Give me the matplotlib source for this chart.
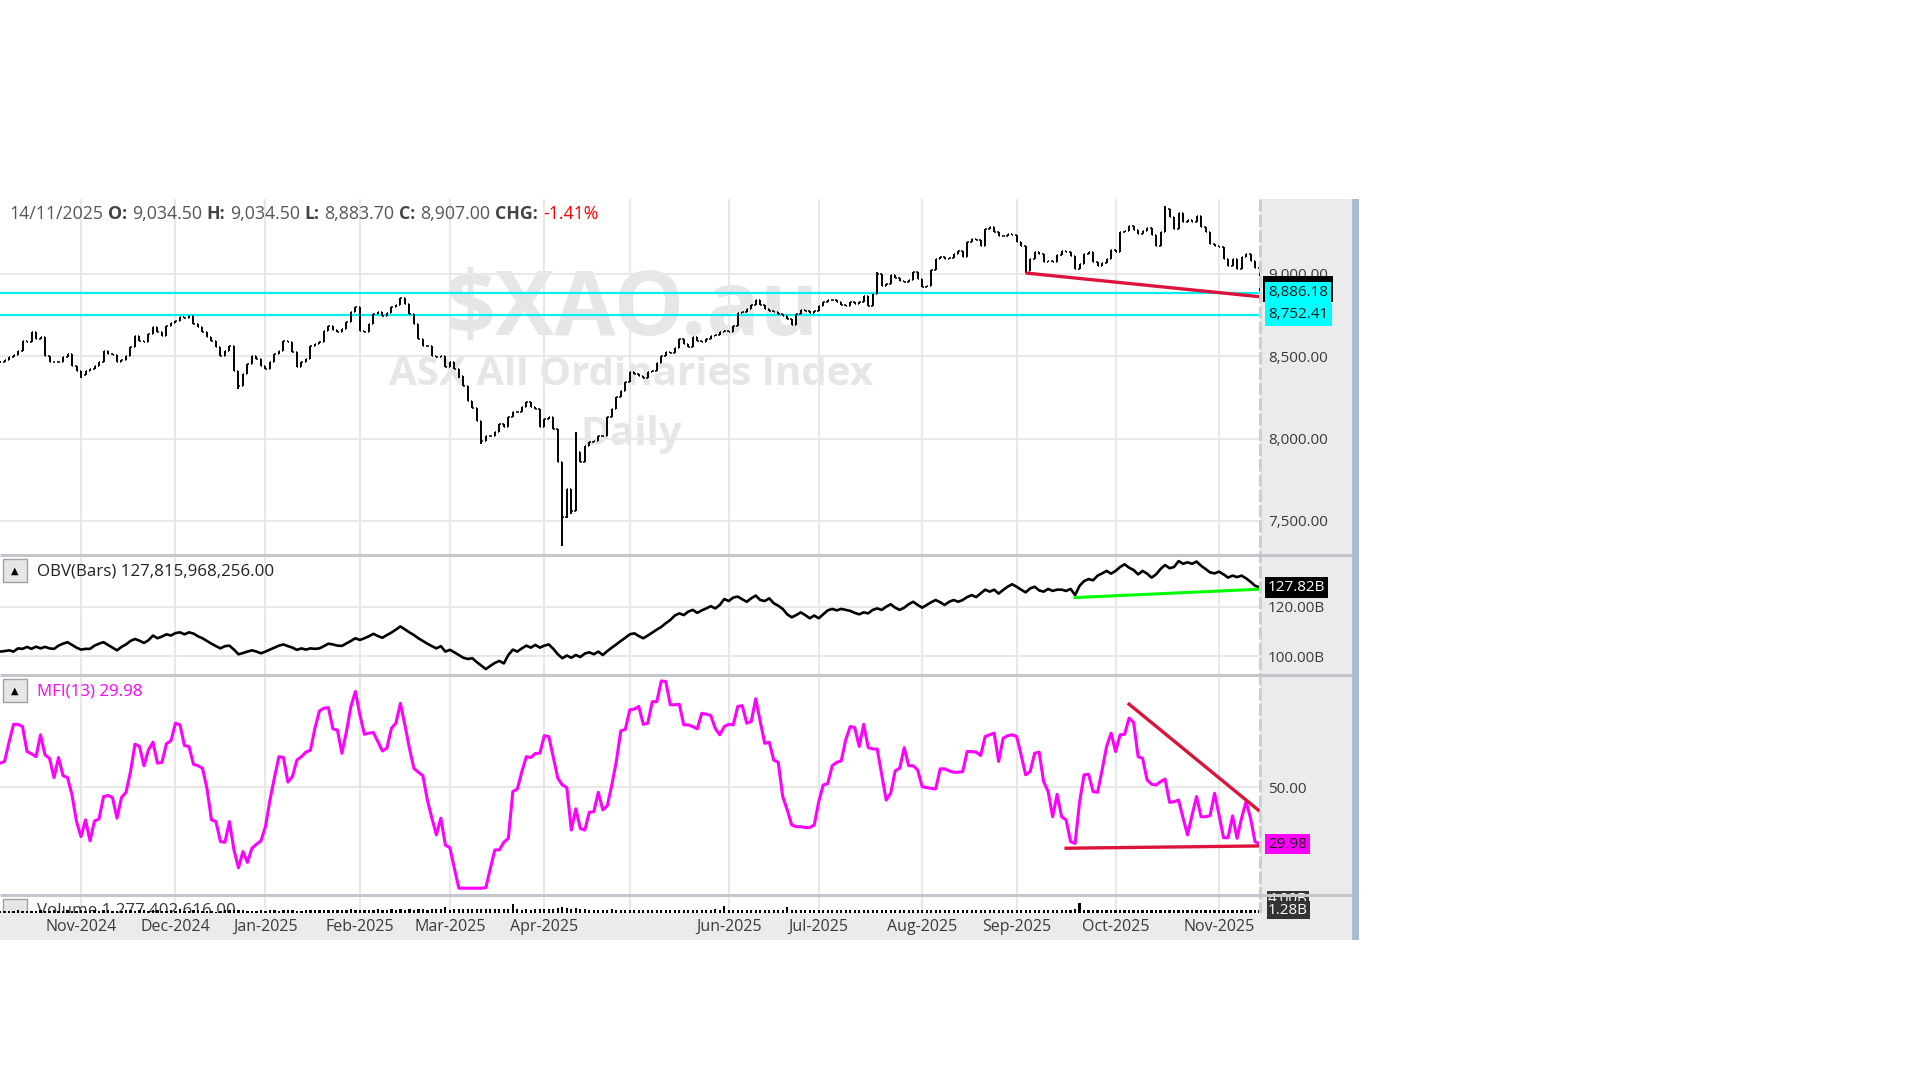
import numpy as np
import pandas as pd
import matplotlib
matplotlib.use('Agg')
import matplotlib.pyplot as plt
from matplotlib.patches import Rectangle

plt.rcParams['font.family'] = ['Open Sans', 'Noto Sans', 'DejaVu Sans']

# ---- Data ----
HOLIDAYS = ['2024-12-25', '2024-12-26', '2025-01-01', '2025-01-27',
            '2025-04-18', '2025-04-21', '2025-04-25', '2025-06-09']
FIRST_OPEN = 8470.0

close = [
    8463, 8480, 8494, 8508, 8534, 8595, 8585, 8646, 8605, 8615,
    8504, 8467, 8463, 8467, 8494, 8514, 8443, 8413, 8386, 8413,
    8423, 8443, 8467, 8534, 8514, 8508, 8463, 8480, 8504, 8555,
    8625, 8595, 8585, 8635, 8676, 8646, 8625, 8686, 8702, 8716,
    8737, 8731, 8747, 8696, 8676, 8646, 8615, 8595, 8555, 8504,
    8534, 8565, 8413, 8322, 8393, 8453, 8504, 8484, 8443, 8423,
    8463, 8514, 8534, 8595, 8585, 8524, 8433, 8467, 8484, 8565,
    8575, 8585, 8656, 8686, 8662, 8646, 8666, 8706, 8767, 8797,
    8656, 8646, 8696, 8757, 8767, 8747, 8763, 8797, 8812, 8852,
    8818, 8757, 8696, 8605, 8565, 8561, 8504, 8494, 8504, 8433,
    8463, 8423, 8382, 8322, 8230, 8184, 8109, 7988, 8018, 8014,
    8038, 8089, 8069, 8129, 8160, 8164, 8190, 8220, 8190, 8180,
    8069, 8119, 8129, 8058, 7856, 7522, 7694, 7562, 7917, 7856,
    7957, 7977, 7987, 8018, 8018, 8129, 8180, 8251, 8291, 8342,
    8403, 8392, 8382, 8366, 8403, 8413, 8459, 8504, 8524, 8520,
    8548, 8605, 8575, 8554, 8615, 8595, 8585, 8605, 8625, 8629,
    8646, 8656, 8646, 8686, 8763, 8767, 8787, 8812, 8844, 8812,
    8787, 8777, 8767, 8757, 8743, 8727, 8690, 8757, 8781, 8777,
    8763, 8777, 8808, 8832, 8842, 8844, 8828, 8812, 8804, 8828,
    8818, 8832, 8864, 8804, 8878, 9000, 8929, 8939, 8994, 8974,
    8960, 8949, 8966, 9014, 8970, 8919, 8925, 9026, 9091, 9101,
    9091, 9095, 9121, 9142, 9101, 9196, 9213, 9209, 9172, 9273,
    9283, 9253, 9229, 9233, 9243, 9237, 9196, 9172, 9020, 9091,
    9131, 9121, 9075, 9081, 9075, 9115, 9142, 9136, 9111, 9030,
    9061, 9121, 9136, 9071, 9051, 9067, 9091, 9148, 9136, 9253,
    9263, 9294, 9269, 9243, 9263, 9277, 9237, 9172, 9253, 9395,
    9344, 9273, 9371, 9314, 9330, 9318, 9350, 9283, 9253, 9182,
    9172, 9162, 9091, 9051, 9091, 9030, 9101, 9121, 9081, 9034.5,
    8907.0,
]
# bars whose high / low reach past the open-close range
high_extra = {124: 8058, 125: 7856, 128: 8040, 80: 8797, 259: 9415,
              228: 9172, 195: 9010, 107: 8109, 53: 8413}
low_extra = {125: 7350, 107: 7965, 53: 8300, 228: 9005, 127: 7540,
             280: 8883.7, 126: 7520, 18: 8370, 102: 8370}

obv = [
    101.8, 102.0, 102.3, 101.8, 103.1, 102.9, 103.7, 102.9, 103.8, 103.1,
    103.7, 103.1, 102.9, 104.2, 105.0, 105.6, 104.5, 103.4, 102.6, 102.9,
    102.9, 104.2, 105.0, 105.6, 104.5, 103.4, 102.3, 103.7, 104.7, 106.1,
    106.9, 106.2, 105.3, 106.4, 108.3, 107.2, 107.9, 108.8, 108.3, 109.3,
    109.6, 108.8, 109.6, 109.1, 108.0, 107.2, 106.1, 105.0, 104.0, 103.1,
    104.0, 104.2, 102.6, 100.7, 101.2, 101.8, 102.3, 101.8, 101.1, 101.8,
    102.6, 103.4, 104.2, 104.7, 104.0, 103.4, 102.5, 103.1, 102.6, 103.1,
    102.9, 103.1, 104.0, 105.0, 104.7, 104.2, 104.1, 105.1, 106.1, 107.2,
    106.5, 107.2, 108.0, 109.0, 108.1, 107.4, 108.5, 109.5, 110.7, 112.0,
    110.8, 109.6, 108.5, 107.2, 106.1, 105.0, 104.0, 103.1, 104.0, 101.8,
    102.5, 101.5, 100.4, 99.3, 98.8, 99.1, 97.5, 96.1, 94.7, 96.0,
    97.2, 98.0, 97.0, 100.4, 102.6, 101.8, 103.1, 104.2, 103.4, 104.5,
    103.4, 104.2, 104.7, 102.9, 100.7, 99.1, 100.2, 99.3, 100.4, 99.6,
    101.0, 101.5, 100.7, 101.8, 100.4, 102.0, 103.4, 104.7, 106.1, 107.4,
    108.8, 109.2, 108.1, 107.2, 108.3, 109.5, 110.7, 111.8, 113.3, 114.6,
    116.4, 117.3, 116.6, 118.0, 118.7, 117.5, 118.5, 119.3, 120.2, 119.3,
    120.7, 123.1, 122.3, 123.7, 124.1, 123.0, 122.0, 123.4, 124.5, 122.7,
    122.3, 123.4, 121.4, 120.4, 119.1, 116.9, 115.7, 116.6, 117.7, 116.6,
    115.3, 116.4, 115.3, 116.9, 118.5, 119.1, 118.5, 119.1, 118.7, 118.3,
    117.5, 116.9, 117.7, 117.3, 118.7, 119.3, 118.7, 120.0, 121.0, 119.6,
    118.7, 119.6, 121.0, 122.0, 120.7, 119.6, 120.7, 121.8, 122.7, 121.8,
    120.7, 122.0, 122.7, 122.0, 122.7, 123.9, 124.7, 123.9, 125.4, 126.9,
    126.1, 126.9, 125.3, 126.8, 128.1, 129.1, 128.1, 126.9, 125.8, 127.4,
    128.1, 126.6, 126.1, 127.2, 126.4, 126.9, 126.9, 126.4, 127.2, 124.7,
    128.5, 130.4, 131.2, 130.7, 132.6, 133.5, 134.5, 133.4, 134.5, 136.1,
    137.2, 135.8, 134.9, 133.1, 134.5, 133.4, 131.8, 133.1, 135.3, 136.9,
    135.6, 136.1, 138.5, 137.4, 138.0, 137.4, 138.3, 136.6, 135.3, 133.9,
    133.5, 134.2, 133.1, 131.8, 132.6, 132.0, 132.6, 131.5, 130.1, 128.5,
    127.816,
]

mfi = [
    58.5, 59.1, 65.9, 72.2, 72.2, 71.4, 62.6, 61.8, 60.8, 68.5,
    61.4, 60.2, 53.4, 60.5, 54.1, 53.4, 47.3, 37.9, 32.6, 38.5,
    31.1, 38.1, 38.8, 46.7, 47.1, 46.4, 39.1, 46.4, 48.2, 55.5,
    65.2, 64.4, 57.6, 63.2, 65.9, 58.5, 58.8, 65.4, 66.4, 72.6,
    72.0, 64.7, 64.4, 58.1, 57.6, 56.7, 49.6, 38.5, 37.9, 30.8,
    30.6, 37.9, 27.9, 21.6, 27.3, 23.5, 28.5, 29.9, 31.1, 36.1,
    45.5, 53.4, 60.8, 60.5, 51.8, 53.8, 59.6, 60.8, 62.4, 63.1,
    70.8, 76.9, 77.9, 78.1, 70.6, 70.2, 62.0, 69.6, 78.5, 83.8,
    75.5, 68.7, 69.1, 69.3, 66.1, 62.8, 63.8, 70.8, 72.6, 79.6,
    72.0, 63.8, 56.7, 55.3, 54.1, 45.5, 39.1, 33.2, 39.1, 29.6,
    28.7, 21.4, 14.4, 14.4, 14.4, 14.4, 14.4, 14.4, 14.6, 21.4,
    27.9, 27.9, 30.6, 32.0, 48.5, 49.4, 55.5, 60.8, 60.5, 61.9,
    62.0, 68.2, 67.9, 60.5, 53.2, 50.8, 49.9, 34.9, 42.4, 35.5,
    34.9, 41.2, 41.4, 48.2, 42.0, 43.5, 50.8, 59.1, 69.9, 70.4,
    77.3, 77.6, 78.5, 72.2, 72.6, 80.2, 80.2, 87.5, 87.3, 79.1,
    79.1, 79.3, 72.0, 72.0, 71.4, 70.6, 76.1, 75.8, 75.3, 70.8,
    68.5, 71.4, 72.2, 72.0, 78.5, 78.8, 72.6, 73.2, 81.2, 73.2,
    65.5, 65.9, 59.6, 58.8, 46.7, 42.0, 36.7, 36.1, 36.1, 35.8,
    35.8, 36.7, 44.9, 50.8, 51.3, 57.6, 58.8, 59.3, 66.7, 71.4,
    71.1, 64.4, 72.2, 64.0, 63.5, 63.5, 54.4, 45.5, 47.9, 55.8,
    56.7, 64.0, 57.6, 57.6, 56.1, 50.2, 49.9, 49.6, 49.4, 56.5,
    56.5, 55.8, 55.3, 55.3, 55.5, 62.6, 62.6, 62.4, 61.2, 67.9,
    68.5, 69.1, 59.1, 67.3, 68.2, 68.5, 67.9, 61.4, 54.4, 55.5,
    62.0, 62.4, 52.0, 48.5, 39.6, 47.5, 39.6, 38.5, 30.8, 30.2,
    44.9, 54.4, 54.6, 48.5, 48.2, 56.1, 64.4, 69.1, 62.6, 68.5,
    68.7, 74.4, 72.9, 60.8, 60.2, 52.6, 51.1, 50.8, 52.0, 52.9,
    44.7, 44.9, 45.5, 39.1, 33.2, 40.2, 46.7, 39.6, 39.6, 40.0,
    47.9, 40.2, 32.2, 32.2, 39.9, 32.0, 39.1, 44.9, 39.1, 30.8,
    29.98,
]

volume = [
    1.12, 1.20, 1.05, 1.18, 1.25, 1.10, 1.08, 1.22, 1.15, 1.30,
    1.18, 1.12, 1.26, 1.20, 1.10, 1.35, 1.22, 1.16, 1.28, 1.12,
    1.20, 1.25, 1.18, 1.30, 1.40, 1.22, 1.15, 1.10, 1.24, 1.30,
    1.18, 1.26, 1.35, 1.20, 1.45, 1.28, 1.15, 1.22, 1.30, 1.18,
    1.55, 1.20, 1.12, 1.25, 1.30, 1.18, 1.08, 1.02, 0.95, 1.22,
    1.30, 1.25, 1.38, 1.45, 1.28, 1.20, 1.15, 1.22, 1.30, 1.18,
    1.35, 1.25, 1.20, 1.28, 1.40, 1.32, 1.22, 1.18, 1.30, 1.42,
    1.25, 1.35, 1.30, 1.28, 1.45, 1.38, 1.32, 1.40, 1.50, 1.36,
    1.48, 1.42, 1.35, 1.40, 1.55, 1.38, 1.42, 1.60, 1.45, 1.52,
    1.40, 1.62, 1.48, 1.55, 1.58, 1.45, 1.50, 1.62, 1.55, 2.20,
    1.48, 1.55, 1.60, 1.52, 1.58, 1.65, 1.55, 1.62, 1.50, 1.58,
    1.52, 1.60, 1.68, 1.55, 2.95, 1.50, 1.45, 1.55, 1.48, 1.52,
    1.58, 1.55, 1.62, 1.70, 1.85, 2.20, 1.90, 1.75, 1.85, 1.65,
    1.50, 1.45, 1.40, 1.48, 1.35, 1.42, 1.50, 1.38, 1.45, 1.40,
    1.35, 1.42, 1.30, 1.38, 1.45, 1.32, 1.40, 1.36, 1.30, 1.42,
    1.38, 1.30, 1.45, 1.35, 1.28, 1.40, 1.32, 1.38, 1.45, 1.50,
    1.42, 2.40, 1.35, 1.30, 1.42, 1.38, 1.32, 1.45, 1.40, 1.35,
    1.30, 1.38, 1.42, 1.35, 1.48, 2.16, 1.32, 1.28, 1.40, 1.35,
    1.30, 1.38, 1.25, 1.32, 1.40, 1.28, 1.35, 1.30, 1.38, 1.25,
    1.32, 1.28, 1.40, 1.35, 1.30, 1.45, 1.38, 1.32, 1.28, 1.35,
    1.42, 1.30, 1.38, 1.45, 1.32, 1.28, 1.40, 1.48, 1.35, 1.30,
    1.38, 1.42, 1.35, 1.28, 1.45, 1.38, 1.32, 1.40, 1.35, 1.42,
    1.48, 1.35, 1.40, 1.30, 1.45, 1.38, 1.42, 1.35, 1.30, 1.40,
    1.45, 1.38, 1.32, 1.48, 1.40, 1.35, 1.42, 1.38, 1.45, 1.50,
    3.20, 1.42, 1.35, 1.40, 1.48, 1.38, 1.32, 1.45, 1.40, 1.35,
    1.42, 1.38, 1.45, 1.40, 1.35, 1.42, 1.48, 1.38, 1.32, 1.40,
    1.45, 1.38, 1.42, 1.35, 1.40, 1.48, 1.42, 1.38, 1.45, 1.40,
    1.35, 1.42, 1.38, 1.45, 1.40, 1.35, 1.42, 1.38, 1.40, 1.45,
    1.28,
]

support_levels = [8886.18, 8752.41]
price_trend = ([228, 280], [9006, 8862])
obv_trend = ([239, 280], [123.7, 127.1])
mfi_upper = ([251, 280], [79.3, 41.6])
mfi_lower = ([237, 280], [28.5, 29.3])

PRICE_TICKS = [7500, 8000, 8500, 9000]
OBV_TICKS = [100, 120]
MFI_TICKS = [50]

# ---- Layout (pixels) ----
W, H = 1920, 1080
PL, PR, AXR = 0, 1260, 1352
Y_TOP, Y_P, Y_O, Y_M, Y_V, Y_BOT = 199, 555, 675, 895, 913, 940
GRID = '#E8E8E8'
SEP = '#C4C6CD'
PANEL_BG = '#EBEBEB'
TXT = '#3A3A3A'
FS = 11        # right-hand axis labels
FS_HEAD = 12.8
FS_TITLE = 12.2
FS_DATE = 11.5


def rect(x0, y0, x1, y1):
    return [x0 / W, 1 - y1 / H, (x1 - x0) / W, (y1 - y0) / H]


n = len(close)
idx = np.arange(n)
dates = pd.bdate_range('2024-10-08', '2025-11-14')
dates = dates[~dates.isin(pd.to_datetime(HOLIDAYS))][:n]
month_idx = [i for i in range(1, len(dates)) if dates[i].month != dates[i - 1].month]
month_lbl = [dates[i].strftime('%b-%Y') for i in month_idx]
month_lbl = ['' if m == 'May-2025' else m for m in month_lbl]

c = np.array(close, dtype=float)
o = np.concatenate([[FIRST_OPEN], c[:-1]])
hi = np.maximum(o, c)
lo = np.minimum(o, c)
for k, v in high_extra.items():
    hi[k] = max(hi[k], v)
for k, v in low_extra.items():
    lo[k] = min(lo[k], v)

fig = plt.figure(figsize=(19.2, 10.8), dpi=100)
fig.patch.set_facecolor('white')

bg = fig.add_axes([0, 0, 1, 1], zorder=-5)
bg.set_xlim(0, W)
bg.set_ylim(H, 0)
bg.axis('off')
bg.add_patch(Rectangle((PR, Y_TOP), AXR - PR, Y_BOT - Y_TOP, fc=PANEL_BG, ec='none'))
bg.add_patch(Rectangle((PL, Y_V), AXR - PL, Y_BOT - Y_V, fc=PANEL_BG, ec='none'))
bg.add_patch(Rectangle((AXR, Y_TOP), 7, Y_BOT - Y_TOP, fc='#A9BCD5', ec='none'))

XLIM = (-0.01, 280.1)
ax_p = fig.add_axes(rect(PL, Y_TOP, PR, Y_P))
ax_o = fig.add_axes(rect(PL, Y_P, PR, Y_O))
ax_m = fig.add_axes(rect(PL, Y_O, PR, Y_M))
ax_v = fig.add_axes(rect(PL, Y_M, PR, Y_V))

for ax in (ax_p, ax_o, ax_m, ax_v):
    ax.set_xlim(*XLIM)
    ax.set_facecolor('white')
    for s in ax.spines.values():
        s.set_visible(False)
    ax.set_xticks(month_idx)
    ax.grid(axis='x', color=GRID, lw=1.5, zorder=0)
    ax.tick_params(axis='x', length=0, labelbottom=False)
    ax.yaxis.tick_right()
    ax.tick_params(axis='y', length=0, pad=5.8, labelsize=FS, labelcolor=TXT)
    ax.set_axisbelow(True)

# price panel
ax_p.set_ylim(7293, 9455.6)
ax_p.set_yticks(PRICE_TICKS)
ax_p.set_yticklabels([f'{t:,.2f}' for t in PRICE_TICKS])
ax_p.grid(axis='y', color=GRID, lw=1.5)
ax_p.text(0.5008, 0.6826, '$XAO.au', transform=ax_p.transAxes, fontsize=64,
          fontweight='bold', color='#E6E6E6', ha='center', va='center', zorder=0.5)
ax_p.text(0.5008, 0.5065, 'ASX All Ordinaries Index', transform=ax_p.transAxes,
          fontsize=29, fontweight='bold', color='#E6E6E6', ha='center', va='center', zorder=0.5)
ax_p.text(0.5008, 0.3379, 'Daily', transform=ax_p.transAxes, fontsize=29,
          fontweight='bold', color='#E6E6E6', ha='center', va='center', zorder=0.5)
for lvl in support_levels:
    ax_p.axhline(lvl, color='#00F0F0', lw=1.6, zorder=2)
ax_p.vlines(idx, lo, hi, color='black', lw=1.4, zorder=3)
ax_p.hlines(o, idx - 0.3, idx, color='black', lw=1.1, zorder=3)
ax_p.hlines(c, idx, idx + 0.3, color='black', lw=1.1, zorder=3)
ax_p.plot(*price_trend, color='#DC143C', lw=2.4, zorder=4, solid_capstyle='butt')

# OBV panel
ax_o.set_ylim(92.3, 140.96)
ax_o.set_yticks(OBV_TICKS)
ax_o.set_yticklabels([f'{t:.2f}B' for t in OBV_TICKS])
ax_o.grid(axis='y', color=GRID, lw=1.5)
ax_o.plot(idx, obv, color='black', lw=1.9, zorder=3)
ax_o.plot(*obv_trend, color='#00FF00', lw=2.2, zorder=4)

# MFI panel
ax_m.set_ylim(12.0, 89.6)
ax_m.set_yticks(MFI_TICKS)
ax_m.set_yticklabels([f'{t:.2f}' for t in MFI_TICKS])
ax_m.grid(axis='y', color=GRID, lw=1.5)
ax_m.plot(idx, mfi, color='#FF00FF', lw=2.2, zorder=3)
ax_m.plot(*mfi_upper, color='#DC143C', lw=2.4, zorder=4)
ax_m.plot(*mfi_lower, color='#DC143C', lw=2.4, zorder=4)

# volume panel
ax_v.set_ylim(0.58, 5.3)
ax_v.set_yticks([])
ax_v.text(37 / 1260, 0.12, 'Volume 1,277,402,616.00', transform=ax_v.transAxes,
          fontsize=FS_TITLE, color=TXT, va='center', ha='left', clip_on=True, zorder=1)
ax_v.add_patch(Rectangle((3 / 1260, -0.2), 24 / 1260, 1.0, transform=ax_v.transAxes,
                         fc='#E6E6E6', ec='#A0A0A0', lw=1, clip_on=True, zorder=1))
ax_v.bar(idx, volume, width=0.5, bottom=0, color='black', zorder=3)
ax_v.tick_params(axis='x', labelbottom=True, pad=4.5, labelsize=FS_DATE, labelcolor=TXT)
ax_v.set_xticklabels(month_lbl)


# right-hand value boxes
def value_box(ax, val, label, fc, tc, pad=0.18, z=6):
    ax.annotate(label, xy=(1, val), xycoords=('axes fraction', 'data'),
                xytext=(5.8, 0), textcoords='offset points', ha='left', va='center',
                fontsize=FS, color=tc, annotation_clip=False, zorder=z,
                bbox=dict(boxstyle=f'square,pad={pad}', fc=fc, ec='none'))


value_box(ax_p, c[-1], f'{c[-1]:,.2f}', 'black', 'white', pad=0.35, z=5)
for lvl in support_levels:
    value_box(ax_p, lvl, f'{lvl:,.2f}', '#00FFFF', '#1A1A1A', pad=0.22, z=6)
value_box(ax_o, obv[-1], f'{obv[-1]:.2f}B', 'black', 'white')
value_box(ax_m, mfi[-1], f'{mfi[-1]:.2f}', '#FF00FF', '#1A1A1A')
value_box(ax_v, 4.0, '4.00B', '#333333', 'white', pad=0.1)
value_box(ax_v, volume[-1], f'{volume[-1]:.2f}B', '#333333', 'white', pad=0.1)

# overlay: separators, buttons, titles
ov = fig.add_axes([0, 0, 1, 1], zorder=10)
ov.set_xlim(0, W)
ov.set_ylim(H, 0)
ov.axis('off')
ov.patch.set_alpha(0)
ov.plot([PR, PR], [Y_TOP, Y_V], color='#CFCFCF', lw=2.2, ls=(0, (4, 1)))
for y in (Y_P, Y_O, Y_M):
    ov.plot([0, AXR], [y, y], color=SEP, lw=2.2, solid_capstyle='butt')

for ytop, title, col in ((559, 'OBV(Bars) 127,815,968,256.00', '#222222'),
                         (679, 'MFI(13) 29.98', '#FF00FF')):
    ov.add_patch(Rectangle((3, ytop), 24, 23, fc='#E6E6E6', ec='#A0A0A0', lw=1))
    ov.text(15, ytop + 11.5, '▲', fontsize=7, ha='center', va='center', color='black',
            family=['DejaVu Sans'])
    ov.text(37, ytop + 12, title, fontsize=FS_TITLE, color=col, ha='left', va='center')

# header line
fig.canvas.draw()
rend = fig.canvas.get_renderer()
header = [('14/11/2025', False, '#555555'), ('O:', True, '#444444'),
          ('9,034.50', False, '#555555'), ('H:', True, '#444444'),
          ('9,034.50', False, '#555555'), ('L:', True, '#444444'),
          ('8,883.70', False, '#555555'), ('C:', True, '#444444'),
          ('8,907.00', False, '#555555'), ('CHG:', True, '#444444'),
          ('-1.41%', False, '#FF0000')]
x = 9
for s, bold, col in header:
    t = ov.text(x, 214, s, fontsize=FS_HEAD, fontweight='bold' if bold else 'normal',
                color=col, ha='left', va='center')
    x += t.get_window_extent(renderer=rend).width + 4.8

fig.savefig('out.png', dpi=100, facecolor='white')
